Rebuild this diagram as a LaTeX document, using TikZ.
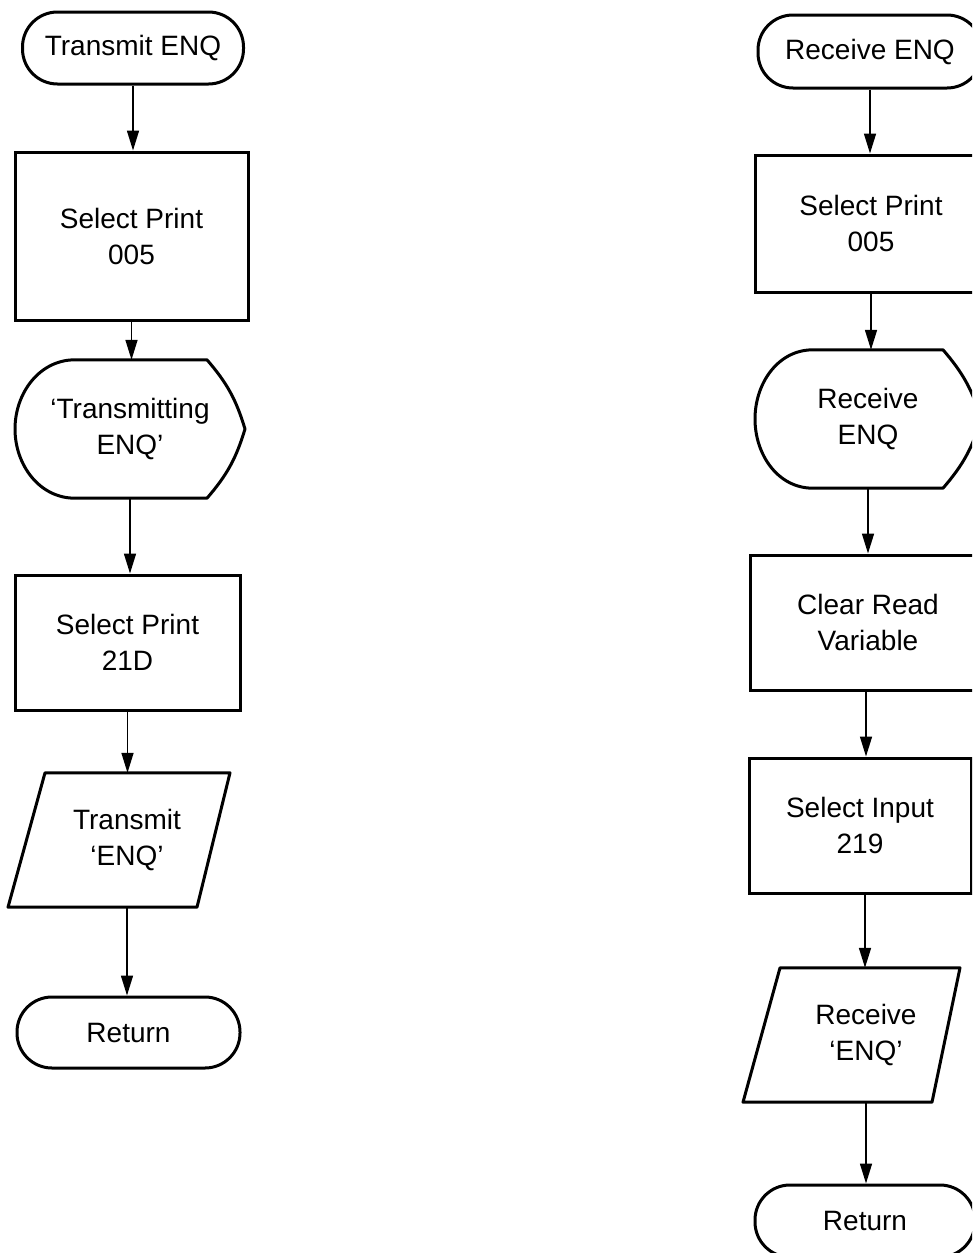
\documentclass[tikz,border=0pt]{standalone}
\usepackage{fontspec}
\setmainfont{Liberation Sans}
\usetikzlibrary{arrows.meta}

\begin{document}
\begin{tikzpicture}[
  x=1pt, y=1pt,
  every node/.style={font=\fontsize{28}{36}\selectfont, align=center},
  box/.style={draw, line width=3pt, inner sep=0pt, minimum height=135pt},
  term/.style={draw, line width=3pt, inner sep=0pt, rounded corners=35pt, minimum height=72pt},
  txt/.style={inner sep=0pt, minimum height=136pt},
  shp/.style={line width=3pt, line join=round},
  arr/.style={-{Triangle[length=20pt, width=12pt]}, line width=1.6pt}
]
\useasboundingbox (0,0) rectangle (972,-1253);
\clip (0,0) rectangle (972,-1253);

% transmit side
\node[term, minimum width=221pt] (tstart) at (133,-48) {Transmit ENQ};
\node[box, minimum width=233pt, minimum height=168pt] (tsel1) at (131.5,-236) {Select Print\\005};
\node[txt, minimum height=138pt] (tdisp) at (130,-429) {‘Transmitting\\ENQ’};
\node[box, minimum width=225pt] (tsel2) at (127.5,-642.5) {Select Print\\21D};
\node[txt, minimum height=134pt] (tout) at (127,-840) {Transmit\\‘ENQ’};
\node[term, minimum width=223pt, minimum height=71pt] (tret) at (128.5,-1032.5) {Return};

\draw[shp] ([xshift=-55pt]tdisp.north) -- ([xshift=77pt]tdisp.north)
  to[bend left=12] ([xshift=115pt]tdisp.center) to[bend left=12] ([xshift=77pt]tdisp.south)
  -- ([xshift=-55pt]tdisp.south)
  to[out=180, in=-90] ([xshift=-115pt]tdisp.center)
  to[out=90, in=180] ([xshift=-55pt]tdisp.north) -- cycle;
\draw[shp] ([xshift=-82pt]tout.north) -- ([xshift=103pt]tout.north)
  -- ([xshift=70pt]tout.south) -- ([xshift=-119pt]tout.south) -- cycle;

\draw[arr] (tstart.south) -- (tstart.south |- tsel1.north);
\draw[arr] (tsel1.south) -- (tsel1.south |- tdisp.north);
\draw[arr] (tdisp.south) -- (tdisp.south |- tsel2.north);
\draw[arr] (tsel2.south) -- (tsel2.south |- tout.north);
\draw[arr] (tout.south) -- (tout.south |- tret.north);

% receive side
\node[term, minimum width=224pt, minimum height=73pt] (rstart) at (870,-51.5) {Receive ENQ};
\node[box, minimum width=232pt, minimum height=137pt] (rsel1) at (871,-223.5) {Select Print\\005};
\node[txt, minimum height=138pt] (rdisp) at (868,-419) {Receive\\ENQ};
\node[box, minimum width=236pt] (rclr) at (868,-622.5) {Clear Read\\Variable};
\node[box, minimum width=222pt] (rinp) at (860,-825.5) {Select Input\\219};
\node[txt, minimum height=134pt] (rin) at (866,-1035) {Receive\\‘ENQ’};
\node[term, minimum width=220pt] (rret) at (865,-1221) {Return};

\draw[shp] ([xshift=-55pt]rdisp.north) -- ([xshift=75pt]rdisp.north)
  to[bend left=12] ([xshift=113pt]rdisp.center) to[bend left=12] ([xshift=75pt]rdisp.south)
  -- ([xshift=-55pt]rdisp.south)
  to[out=180, in=-90] ([xshift=-113pt]rdisp.center)
  to[out=90, in=180] ([xshift=-55pt]rdisp.north) -- cycle;
\draw[shp] ([xshift=-86pt]rin.north) -- ([xshift=94pt]rin.north)
  -- ([xshift=66pt]rin.south) -- ([xshift=-123pt]rin.south) -- cycle;

\draw[arr] (rstart.south) -- (rstart.south |- rsel1.north);
\draw[arr] (rsel1.south) -- (rsel1.south |- rdisp.north);
\draw[arr] (rdisp.south) -- (rdisp.south |- rclr.north);
\draw[arr] ([xshift=-2pt]rclr.south) -- ([xshift=-2pt]rclr.south |- rinp.north);
\draw[arr] ([xshift=5pt]rinp.south) -- ([xshift=5pt]rinp.south |- rin.north);
\draw[arr] (rin.south) -- (rin.south |- rret.north);

\end{tikzpicture}
\end{document}
